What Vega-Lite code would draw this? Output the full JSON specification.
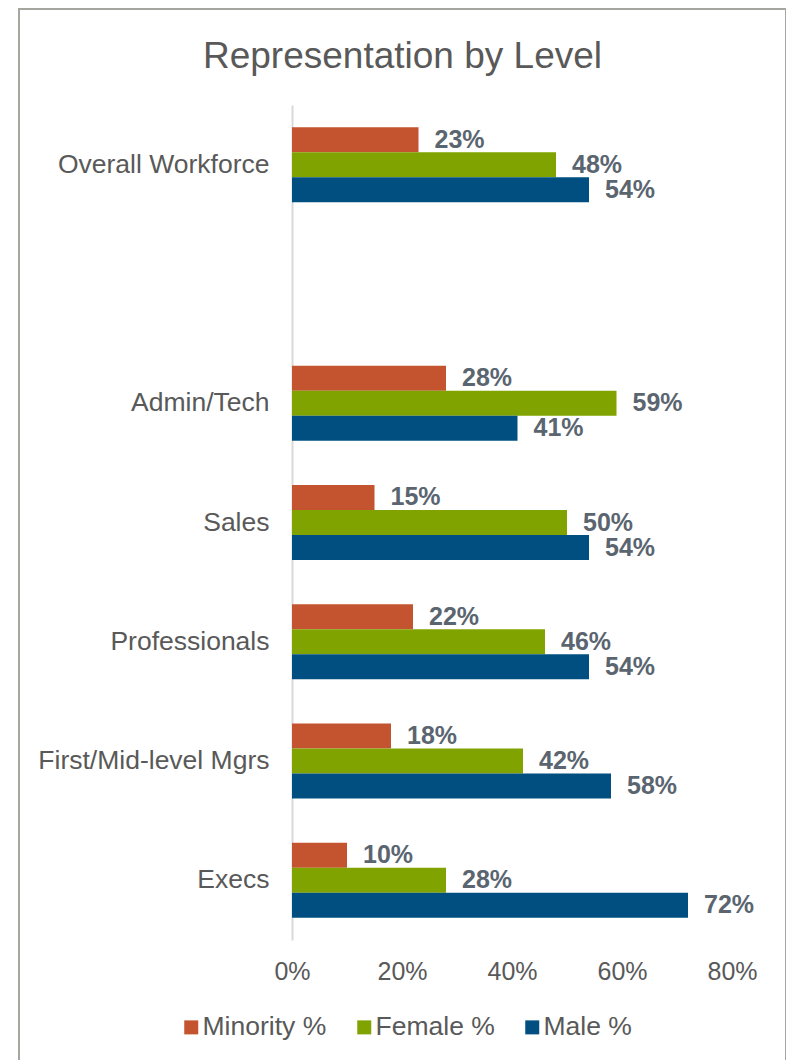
{
  "$schema": "https://vega.github.io/schema/vega-lite/v6.json",
  "autosize": {"type": "none"},
  "padding": {"left": 19, "top": 9, "right": 0, "bottom": 0},
  "width": 767,
  "height": 1060,
  "background": "white",
  "config": {
    "view": {"stroke": "#A6A6A0", "strokeWidth": 2},
    "font": "Liberation Sans"
  },
  "title": {
    "text": "Representation by Level",
    "fontSize": 37,
    "fontWeight": "normal",
    "color": "#595959",
    "offset": -96,
    "baseline": "alphabetic",
    "anchor": "middle",
    "font": "Liberation Sans"
  },
  "data": {
    "values": [
      {"level": "Overall Workforce", "group": "Minority %", "value": 0.23},
      {"level": "Overall Workforce", "group": "Female %", "value": 0.48},
      {"level": "Overall Workforce", "group": "Male %", "value": 0.54},
      {"level": "Admin/Tech", "group": "Minority %", "value": 0.28},
      {"level": "Admin/Tech", "group": "Female %", "value": 0.59},
      {"level": "Admin/Tech", "group": "Male %", "value": 0.41},
      {"level": "Sales", "group": "Minority %", "value": 0.15},
      {"level": "Sales", "group": "Female %", "value": 0.50},
      {"level": "Sales", "group": "Male %", "value": 0.54},
      {"level": "Professionals", "group": "Minority %", "value": 0.22},
      {"level": "Professionals", "group": "Female %", "value": 0.46},
      {"level": "Professionals", "group": "Male %", "value": 0.54},
      {"level": "First/Mid-level Mgrs", "group": "Minority %", "value": 0.18},
      {"level": "First/Mid-level Mgrs", "group": "Female %", "value": 0.42},
      {"level": "First/Mid-level Mgrs", "group": "Male %", "value": 0.58},
      {"level": "Execs", "group": "Minority %", "value": 0.10},
      {"level": "Execs", "group": "Female %", "value": 0.28},
      {"level": "Execs", "group": "Male %", "value": 0.72}
    ]
  },
  "encoding": {
    "y": {
      "field": "level",
      "type": "nominal",
      "sort": null,
      "scale": {
        "domain": ["Overall Workforce", " ", "Admin/Tech", "Sales", "Professionals", "First/Mid-level Mgrs", "Execs"],
        "range": [96, 931],
        "paddingInner": 0.371,
        "paddingOuter": 0.1855
      },
      "axis": {
        "title": null,
        "orient": "left",
        "offset": -273,
        "ticks": false,
        "domain": true,
        "domainColor": "#D9D9D9",
        "domainWidth": 2,
        "grid": false,
        "labelFontSize": 26.5,
        "labelColor": "#595959",
        "labelPadding": 23,
        "labelLimit": 400,
        "labelFont": "Liberation Sans"
      }
    },
    "yOffset": {
      "field": "group",
      "type": "nominal",
      "scale": {"domain": ["Minority %", "Female %", "Male %"], "paddingInner": 0, "paddingOuter": 0}
    },
    "x": {
      "field": "value",
      "type": "quantitative",
      "scale": {"domain": [0, 0.8], "range": [273, 713], "nice": false, "zero": true},
      "axis": {
        "title": null,
        "values": [0, 0.2, 0.4, 0.6, 0.8],
        "format": ".0%",
        "domain": false,
        "ticks": false,
        "grid": false,
        "labelFontSize": 25,
        "labelColor": "#595959",
        "labelFont": "Liberation Sans",
        "offset": -112,
        "labelPadding": 2,
        "labelFlush": false,
        "labelOverlap": false
      }
    }
  },
  "layer": [
    {
      "mark": {"type": "bar"},
      "encoding": {
        "color": {
          "field": "group",
          "type": "nominal",
          "scale": {"domain": ["Minority %", "Female %", "Male %"], "range": ["#C4532F", "#80A300", "#004F80"]},
          "legend": {
            "title": null,
            "orient": "none",
            "direction": "horizontal",
            "legendX": 159,
            "legendY": 1005,
            "symbolType": "square",
            "symbolSize": 196,
            "symbolStrokeWidth": 0,
            "labelFontSize": 26.5,
            "labelColor": "#595959",
            "labelFont": "Liberation Sans",
            "labelOffset": -2,
            "columnPadding": 24
          }
        }
      }
    },
    {
      "mark": {"type": "text", "align": "left", "baseline": "middle", "dx": 16, "fontSize": 25, "fontWeight": "bold", "color": "#5A6570", "font": "Liberation Sans"},
      "encoding": {
        "text": {"field": "value", "type": "quantitative", "format": ".0%"}
      }
    }
  ]
}
